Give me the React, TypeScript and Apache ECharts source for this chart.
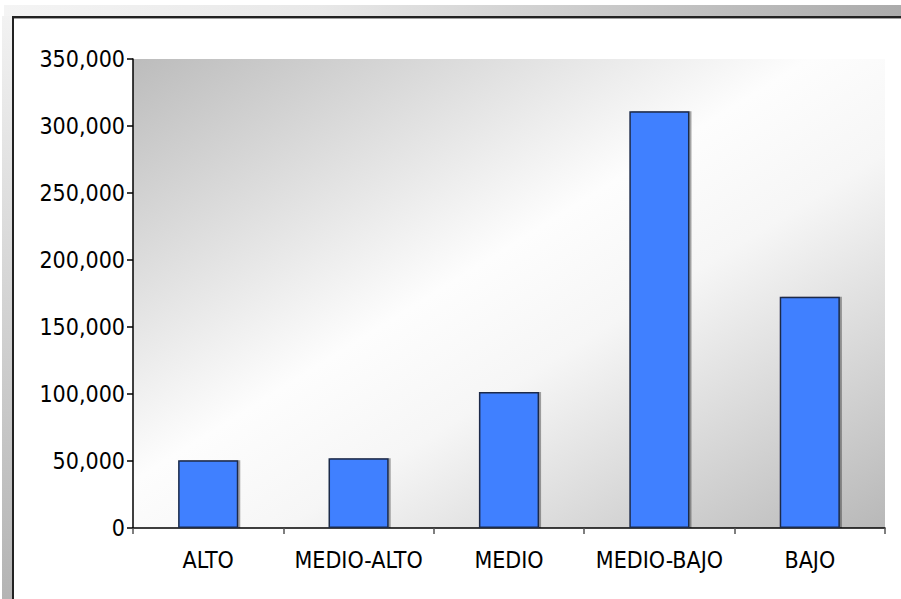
import React, { useEffect, useRef } from "react";
import * as echarts from "echarts";

const categories = ["ALTO", "MEDIO-ALTO", "MEDIO", "MEDIO-BAJO", "BAJO"];
const values = [50500, 52000, 101500, 311000, 172500];
const yTicks = { min: 0, max: 350000, interval: 50000 };

export default function App() {
  const ref = useRef<HTMLDivElement>(null);
  useEffect(() => {
    document.body.style.margin = "0";
    const chart = echarts.init(ref.current!, null, { renderer: "svg" });
    const font = "'DejaVu Sans Condensed', 'DejaVu Sans', sans-serif";
    chart.setOption({
      animation: false,
      backgroundColor: "#ffffff",
      grid: {
        left: 133,
        right: 16,
        top: 59,
        bottom: 71,
        show: true,
        borderWidth: 0,
        backgroundColor: new echarts.graphic.LinearGradient(0, 0, 1, 1, [
          { offset: 0, color: "#bcbcbc" },
          { offset: 0.45, color: "#fdfdfd" },
          { offset: 0.6, color: "#f6f6f6" },
          { offset: 1, color: "#b8b8b8" },
        ]),
      },
      graphic: [
        {
          type: "rect",
          shape: { x: 4, y: 5, width: 897, height: 11 },
          style: {
            fill: new echarts.graphic.LinearGradient(0, 0, 1, 0, [
              { offset: 0, color: "#f4f4f4" },
              { offset: 0.35, color: "#e8e8e8" },
              { offset: 1, color: "#ababab" },
            ]),
          },
          silent: true,
        },
        {
          type: "rect",
          shape: { x: 2, y: 16, width: 11, height: 583 },
          style: {
            fill: new echarts.graphic.LinearGradient(0, 0, 0, 1, [
              { offset: 0, color: "#f2f2f2" },
              { offset: 1, color: "#b4b4b4" },
            ]),
          },
          silent: true,
        },
        {
          type: "rect",
          shape: { x: 12, y: 16, width: 889, height: 2 },
          style: { fill: "#222222" },
          silent: true,
        },
        {
          type: "rect",
          shape: { x: 12, y: 18, width: 889, height: 1 },
          style: { fill: "#a0a0a0" },
          silent: true,
        },
        {
          type: "rect",
          shape: { x: 12, y: 16, width: 2, height: 583 },
          style: { fill: "#222222" },
          silent: true,
        },
      ],
      xAxis: {
        type: "category",
        data: categories,
        axisLine: { lineStyle: { color: "#000000", width: 1.5 } },
        axisTick: { show: true, length: 6, lineStyle: { color: "#555555", width: 1.5 } },
        axisLabel: { color: "#000000", fontFamily: font, fontSize: 23, margin: 20, interval: 0 },
        splitLine: { show: false },
      },
      yAxis: {
        type: "value",
        min: yTicks.min,
        max: yTicks.max,
        interval: yTicks.interval,
        axisLine: { show: true, lineStyle: { color: "#000000", width: 1.5 } },
        axisTick: { show: true, length: 6, lineStyle: { color: "#000000", width: 1.5 } },
        axisLabel: {
          color: "#000000",
          fontFamily: font,
          fontSize: 23,
          margin: 8,
          formatter: (v: number) => v.toLocaleString("en-US"),
        },
        splitLine: { show: false },
      },
      series: [
        {
          type: "bar",
          data: values,
          barWidth: "40%",
          itemStyle: {
            color: "#4080ff",
            borderColor: "#1c2a4a",
            borderWidth: 1.5,
            shadowColor: "rgba(0,0,0,0.35)",
            shadowOffsetX: 2,
            shadowOffsetY: 0,
            shadowBlur: 0,
          },
        },
      ],
    });
    return () => chart.dispose();
  }, []);
  return <div ref={ref} style={{ width: 901, height: 599 }} />;
}
